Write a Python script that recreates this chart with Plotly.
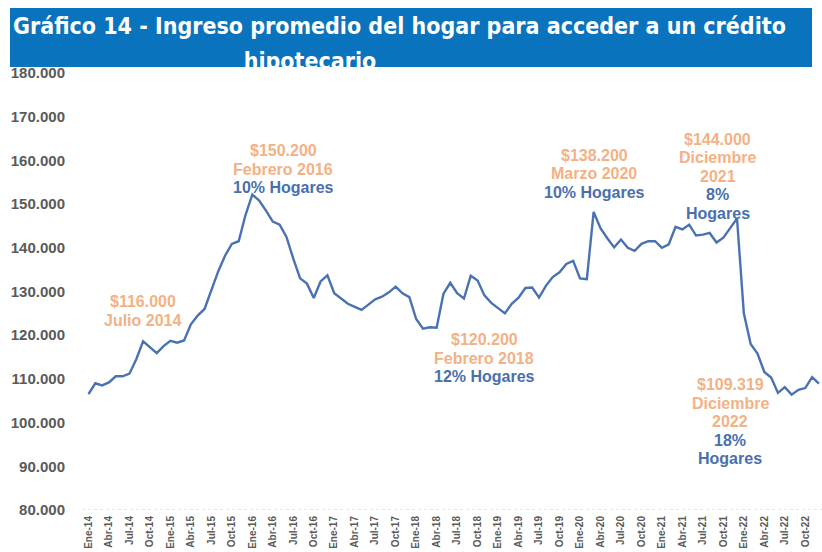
import plotly.graph_objects as go

# Monthly household income required (Ene-14 .. Dic-22)
values = [
    106500, 109000, 108500, 109200, 110600, 110600, 111200, 114500, 118600, 117300,
    115900, 117500, 118700, 118300, 118800, 122500, 124500, 126000, 130500, 134600,
    138200, 140900, 141500, 147500, 152200, 150800, 148500, 146000, 145300, 142500,
    137500, 133000, 131800, 128500, 132300, 133700, 129600, 128300, 127200, 126500,
    125800, 127000, 128200, 128800, 129800, 131100, 129600, 128700, 123700, 121500,
    121800, 121700, 129500, 132000, 129600, 128400, 133600, 132500, 129100, 127400,
    126300, 125000, 127200, 128600, 130800, 130900, 128600, 131300, 133300, 134400,
    136300, 137000, 133000, 132800, 148200, 144500, 142200, 140100, 141900, 140000,
    139300, 140900, 141500, 141500, 140000, 140800, 144800, 144200, 145300, 142800,
    143000, 143400, 141200, 142300, 144500, 146700, 125000, 118000, 115800, 111600,
    110300, 106800, 108100, 106400, 107500, 107900, 110400, 108900,
]
month_index = list(range(len(values)))

tick_labels = [
    "Ene-14", "Abr-14", "Jul-14", "Oct-14", "Ene-15", "Abr-15", "Jul-15", "Oct-15",
    "Ene-16", "Abr-16", "Jul-16", "Oct-16", "Ene-17", "Abr-17", "Jul-17", "Oct-17",
    "Ene-18", "Abr-18", "Jul-18", "Oct-18", "Ene-19", "Abr-19", "Jul-19", "Oct-19",
    "Ene-20", "Abr-20", "Jul-20", "Oct-20", "Ene-21", "Abr-21", "Jul-21", "Oct-21",
    "Ene-22", "Abr-22", "Jul-22", "Oct-22",
]
tick_positions = list(range(0, len(values), 3))

y_ticks = [80000, 90000, 100000, 110000, 120000, 130000, 140000, 150000, 160000, 170000, 180000]

title_line1 = "Gráfico 14 - Ingreso promedio del hogar para acceder a un crédito"
title_line2 = "hipotecario"

ORANGE = "#f4b184"
BLUE_TXT = "#4a6fae"
LINE = "#4a72b2"

# annotation blocks: (x month index, y value, [(text, color), ...])
notes = [
    (7.98, 125500, [("$116.000", ORANGE), ("Julio 2014", ORANGE)]),
    (28.5, 158030, [("$150.200", ORANGE), ("Febrero 2016", ORANGE), ("10% Hogares", BLUE_TXT)]),
    (57.94, 114780, [("$120.200", ORANGE), ("Febrero 2018", ORANGE), ("12% Hogares", BLUE_TXT)]),
    (74.06, 156890, [("$138.200", ORANGE), ("Marzo 2020", ORANGE), ("10% Hogares", BLUE_TXT)]),
    (92.2, 156320, [("$144.000", ORANGE), ("Diciembre", ORANGE), ("2021", ORANGE),
                    ("8%", BLUE_TXT), ("Hogares", BLUE_TXT)]),
    (93.98, 100250, [("$109.319", ORANGE), ("Diciembre", ORANGE), ("2022", ORANGE),
                     ("18%", BLUE_TXT), ("Hogares", BLUE_TXT)]),
]
LINE_GAP = 18.5

fig = go.Figure()

fig.add_trace(go.Scatter(
    x=month_index, y=values, mode="lines",
    line=dict(color=LINE, width=2.4),
    xaxis="x", yaxis="y", showlegend=False, hoverinfo="skip",
))

TITLE_FONT = "Liberation Sans Narrow, DejaVu Sans Condensed, Roboto Condensed, Arial Narrow, sans-serif"
fig.add_trace(go.Scatter(
    x=[3], y=[38.5], mode="text", text=["<b>" + title_line1 + "</b>"],
    textposition="middle right",
    textfont=dict(color="white", size=23, family=TITLE_FONT),
    xaxis="x2", yaxis="y2", cliponaxis=True, showlegend=False, hoverinfo="skip",
))
fig.add_trace(go.Scatter(
    x=[300], y=[4], mode="text", text=["<b>" + title_line2 + "</b>"],
    textposition="middle center",
    textfont=dict(color="white", size=23, family=TITLE_FONT),
    xaxis="x2", yaxis="y2", cliponaxis=True, showlegend=False, hoverinfo="skip",
))

annotations = []
for x, y, lines in notes:
    n = len(lines)
    for k, (t, c) in enumerate(lines):
        annotations.append(dict(
            x=x, y=y, xref="x", yref="y", text=f"<b>{t}</b>", showarrow=False,
            xanchor="center", yanchor="middle", align="center",
            yshift=((n - 1) / 2 - k) * LINE_GAP,
            font=dict(size=16, color=c, family="Liberation Sans, Arial, sans-serif"),
        ))

# paper spans y = 8 .. 510 px (height 502)
PH = 502.0
fig.update_layout(
    width=822, height=552,
    margin=dict(l=0, r=0, t=8, b=42, autoexpand=False),
    paper_bgcolor="white", plot_bgcolor="rgba(0,0,0,0)",
    separators=",.",
    annotations=annotations,
    xaxis=dict(
        domain=[82 / 822, 1], range=[-0.95, 107.45], anchor="y",
        tickvals=tick_positions, ticktext=tick_labels, tickangle=-90,
        tickfont=dict(size=10, color="#5a5a5a", family="Liberation Sans, Arial, sans-serif", weight="bold"),
        showgrid=False, zeroline=False, showline=False, ticks="", ticklabelstandoff=3,
        automargin=False,
    ),
    yaxis=dict(
        domain=[0, (510 - 73) / PH], range=[80000, 180000], anchor="x",
        tickvals=y_ticks, tickformat=",d",
        tickfont=dict(size=15, color="#5a5a5a", family="Liberation Sans, Arial, sans-serif", weight="bold"),
        showgrid=False, zeroline=False, showline=False, ticks="", ticklabelstandoff=16,
        automargin=False,
    ),
    xaxis2=dict(domain=[10 / 822, 812 / 822], range=[0, 802], anchor="y2",
                visible=False, fixedrange=True),
    yaxis2=dict(domain=[(510 - 67) / PH, 1.0], range=[0, 59], anchor="x2",
                visible=False, fixedrange=True),
    shapes=[
        dict(type="rect", xref="x2 domain", yref="y2 domain", x0=0, x1=1, y0=0, y1=1,
             fillcolor="#0a73be", line=dict(width=0), layer="below"),
        dict(type="line", xref="x domain", yref="y", x0=0, x1=1, y0=80000, y1=80000,
             line=dict(color="#cfcfcf", width=1, dash="dot"), layer="below"),
    ],
)

fig.write_html("out.html", config={"displayModeBar": False},
               post_script="document.body.style.margin='0';")
